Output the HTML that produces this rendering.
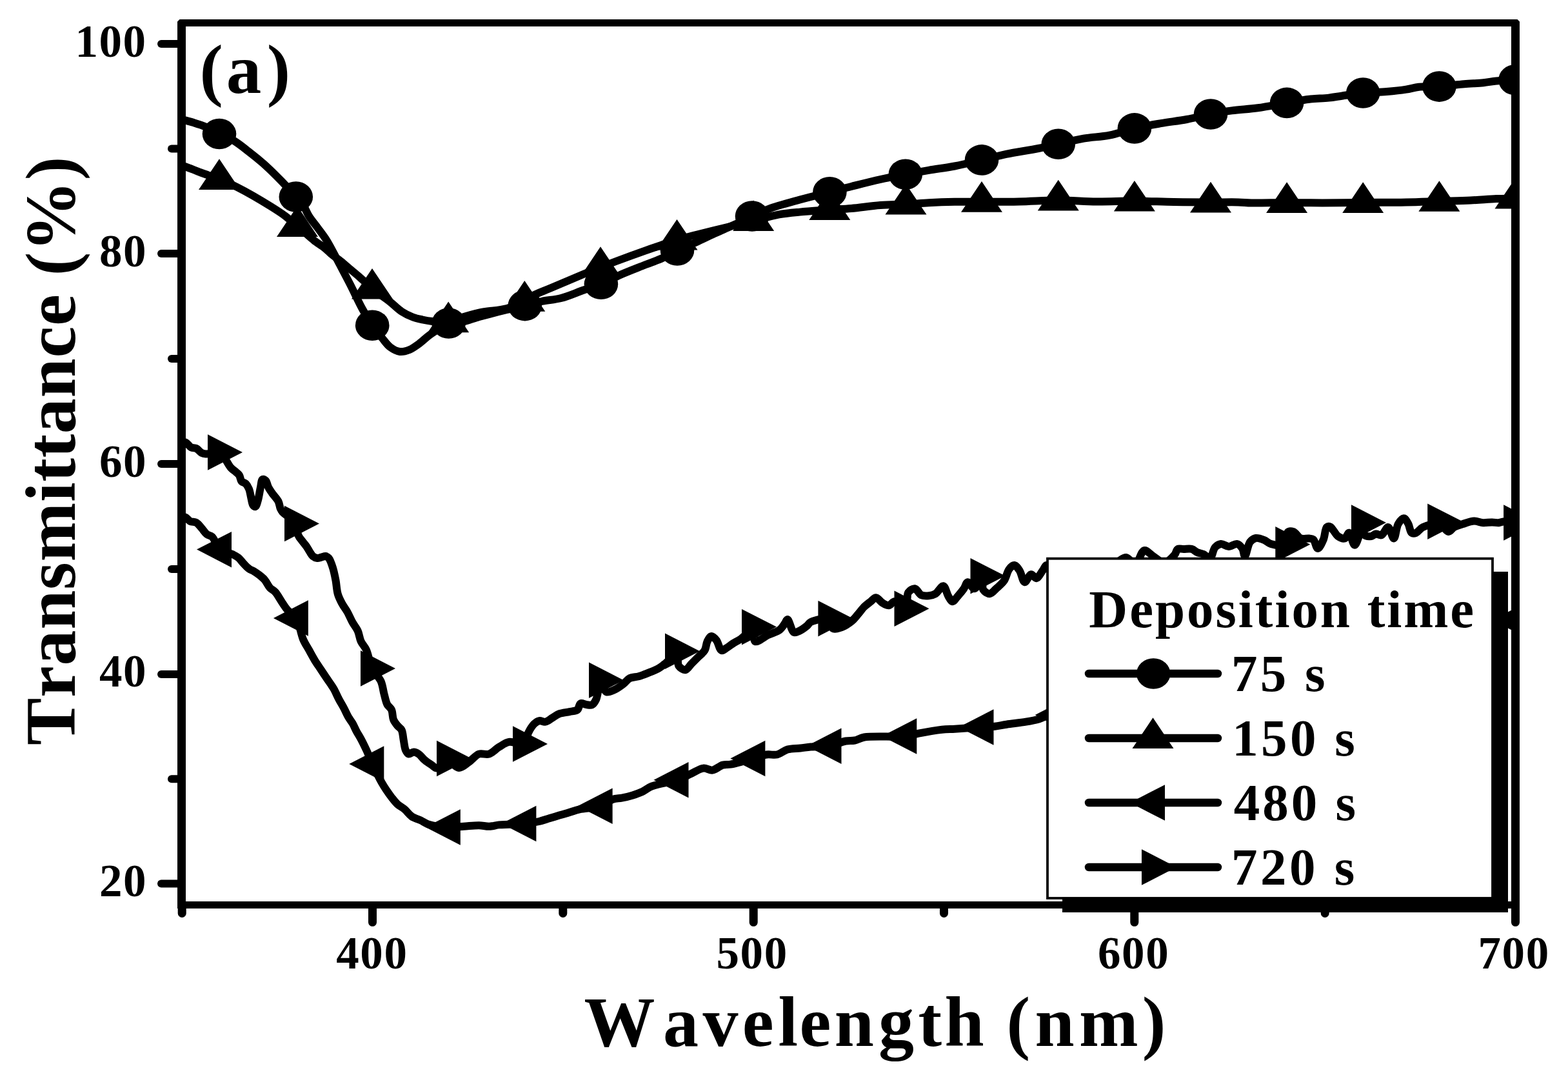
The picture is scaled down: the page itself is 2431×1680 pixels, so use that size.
<!DOCTYPE html>
<html><head><meta charset="utf-8"><title>Transmittance vs Wavelength</title>
<style>html,body{margin:0;padding:0;background:#fff;overflow:hidden}svg{display:block}</style>
</head><body>
<svg width="2431" height="1680" viewBox="0 0 2431 1680">
<rect width="2431" height="1680" fill="#fff"/>
<defs><clipPath id="pc"><rect x="282" y="36" width="2067" height="1366"/></clipPath></defs>
<g clip-path="url(#pc)" fill="#000" stroke-linejoin="round" stroke-linecap="round">
<path d="M282.0,185.0 C288.0,186.7 293.9,188.1 300.0,190.0 C306.5,192.0 313.4,194.1 320.0,197.0 C326.8,199.9 333.1,204.1 340.0,207.5 C347.2,211.1 355.2,213.7 362.5,218.0 C370.3,222.6 377.6,228.7 385.3,234.7 C393.5,241.0 401.8,247.7 410.0,255.0 C418.7,262.8 427.7,271.8 436.0,280.3 C444.0,288.5 452.8,298.0 459.0,305.0 C463.4,310.0 466.7,313.2 470.0,318.0 C473.5,323.1 475.5,329.4 479.0,335.0 C482.8,341.1 488.0,347.0 492.4,353.0 C496.8,359.0 501.4,364.7 505.4,371.0 C509.6,377.5 513.4,384.9 517.0,391.5 C520.4,397.7 522.9,402.7 526.5,409.5 C531.1,418.3 536.9,429.1 542.5,440.0 C548.9,452.4 556.1,468.5 562.5,480.0 C567.6,489.1 572.0,496.5 577.2,504.0 C582.1,511.1 587.5,518.0 592.5,524.0 C596.8,529.2 600.2,534.5 605.0,538.0 C609.5,541.3 614.9,544.4 620.0,545.0 C624.9,545.6 630.2,543.9 635.0,542.0 C640.2,539.9 645.1,536.1 650.0,532.5 C655.1,528.8 659.9,523.8 665.0,520.0 C669.9,516.3 674.9,513.2 680.0,510.0 C685.1,506.8 689.8,502.9 695.6,501.0 C701.8,499.0 708.8,500.4 716.0,499.0 C724.4,497.4 732.9,493.8 743.0,491.0 C755.6,487.5 773.2,483.1 786.0,480.0 C796.3,477.5 804.7,475.8 813.8,473.6 C822.7,471.5 830.9,468.9 840.0,467.0 C849.6,465.0 859.7,464.7 870.0,462.0 C881.3,459.1 894.1,453.3 905.0,449.5 C914.5,446.2 922.9,444.0 931.9,440.3 C941.3,436.4 949.7,431.3 960.0,426.7 C972.1,421.3 988.0,415.3 1000.0,410.5 C1009.9,406.6 1018.5,403.9 1027.0,400.0 C1035.1,396.3 1041.8,391.9 1050.0,388.0 C1059.0,383.7 1069.5,379.8 1079.0,375.5 C1088.4,371.3 1097.7,366.6 1107.0,362.4 C1116.1,358.2 1124.5,354.6 1134.0,350.3 C1144.7,345.5 1157.7,339.7 1168.0,335.0 C1176.7,331.0 1182.5,327.4 1192.0,323.8 C1205.1,318.8 1224.1,313.9 1240.0,309.5 C1255.5,305.2 1272.1,301.4 1286.3,297.8 C1298.4,294.7 1307.9,292.0 1320.0,289.0 C1333.9,285.5 1350.5,281.2 1365.0,278.0 C1378.6,275.0 1391.7,272.6 1404.5,270.2 C1416.6,267.9 1427.8,265.9 1440.0,263.8 C1452.9,261.6 1466.5,260.1 1480.0,257.5 C1494.0,254.8 1508.9,251.1 1522.6,247.9 C1535.5,244.9 1546.6,241.7 1560.0,238.9 C1575.4,235.7 1595.4,232.9 1610.0,230.0 C1621.5,227.7 1629.9,225.7 1640.8,223.3 C1653.1,220.6 1666.8,217.0 1680.0,214.7 C1693.2,212.4 1706.9,212.2 1720.0,209.6 C1733.2,207.0 1745.7,201.9 1758.9,198.9 C1772.3,195.8 1786.4,193.5 1800.0,191.2 C1813.4,188.9 1827.0,187.4 1840.0,185.0 C1852.6,182.7 1865.0,179.3 1877.0,177.0 C1888.3,174.8 1898.4,173.0 1910.0,171.4 C1922.7,169.7 1936.3,169.2 1950.0,167.3 C1964.6,165.3 1981.0,161.8 1995.1,159.4 C2007.5,157.3 2018.8,155.0 2030.0,153.7 C2040.3,152.5 2051.0,152.6 2060.0,151.6 C2067.4,150.8 2072.5,149.8 2080.0,148.7 C2089.7,147.3 2101.8,145.1 2113.2,144.0 C2125.1,142.8 2138.4,143.0 2150.0,142.0 C2160.5,141.1 2171.0,140.0 2180.0,138.6 C2187.4,137.5 2192.5,135.6 2200.0,134.8 C2209.3,133.8 2220.4,134.8 2231.4,134.1 C2243.6,133.4 2257.9,131.3 2270.0,130.3 C2280.6,129.4 2291.0,129.2 2300.0,128.3 C2307.4,127.5 2312.7,126.2 2320.0,125.5 C2328.9,124.6 2342.2,124.3 2349.5,123.8 C2353.9,123.5 2356.5,123.3 2360.0,123.0" fill="none" stroke="#000" stroke-width="12"/>
<ellipse cx="340.0" cy="207.5" rx="26.3" ry="23.8"/>
<ellipse cx="458.8" cy="305.0" rx="26.3" ry="23.8"/>
<ellipse cx="577.2" cy="504.2" rx="26.3" ry="23.8"/>
<ellipse cx="695.6" cy="501.0" rx="26.3" ry="23.8"/>
<ellipse cx="813.8" cy="473.6" rx="26.3" ry="23.8"/>
<ellipse cx="931.9" cy="440.3" rx="26.3" ry="23.8"/>
<ellipse cx="1050.0" cy="388.0" rx="26.3" ry="23.8"/>
<ellipse cx="1166.0" cy="335.0" rx="26.3" ry="23.8"/>
<ellipse cx="1286.4" cy="297.8" rx="26.3" ry="23.8"/>
<ellipse cx="1403.8" cy="270.2" rx="26.3" ry="23.8"/>
<ellipse cx="1522.0" cy="247.9" rx="26.3" ry="23.8"/>
<ellipse cx="1640.8" cy="223.3" rx="26.3" ry="23.8"/>
<ellipse cx="1758.9" cy="198.9" rx="26.3" ry="23.8"/>
<ellipse cx="1877.0" cy="177.0" rx="26.3" ry="23.8"/>
<ellipse cx="1995.1" cy="159.4" rx="26.3" ry="23.8"/>
<ellipse cx="2113.2" cy="144.0" rx="26.3" ry="23.8"/>
<ellipse cx="2231.4" cy="134.1" rx="26.3" ry="23.8"/>
<ellipse cx="2349.5" cy="123.8" rx="26.3" ry="23.8"/>
<path d="M282.0,256.5 C284.0,257.2 285.7,257.7 288.0,258.5 C291.3,259.7 296.2,261.5 300.0,263.0 C303.5,264.4 306.7,265.7 310.0,267.0 C313.3,268.2 316.1,269.1 320.0,270.5 C325.5,272.5 332.8,275.1 340.0,278.0 C348.5,281.4 357.0,284.7 367.5,290.0 C382.4,297.5 406.3,311.5 420.0,320.0 C429.2,325.7 435.5,329.7 442.5,335.0 C449.1,340.1 455.7,346.6 461.0,351.0 C464.8,354.2 467.3,355.9 471.0,359.0 C475.7,362.9 481.6,368.5 487.0,372.7 C492.2,376.8 498.3,380.2 503.0,384.0 C507.1,387.3 510.2,390.8 514.0,394.0 C517.8,397.2 521.8,399.7 526.0,403.0 C530.9,406.9 536.3,411.7 541.5,416.0 C546.7,420.3 552.6,425.2 557.0,429.0 C560.4,432.0 562.8,434.1 566.0,437.0 C569.6,440.3 572.7,443.7 577.5,447.7 C584.6,453.6 596.9,461.6 605.0,468.0 C611.7,473.3 616.8,479.0 623.0,483.0 C628.5,486.6 634.4,489.4 640.0,491.5 C645.1,493.4 650.0,494.4 655.0,495.5 C660.0,496.6 664.3,497.4 670.0,498.0 C677.4,498.8 687.7,500.7 695.6,499.5 C702.9,498.4 708.7,494.4 716.0,492.0 C724.3,489.3 732.9,486.7 743.0,484.5 C755.6,481.8 773.4,481.4 786.0,478.0 C796.5,475.1 806.5,470.7 813.8,466.8 C819.1,464.0 821.5,460.9 826.7,458.0 C833.8,454.1 842.7,451.1 853.0,446.7 C867.4,440.6 890.5,430.8 905.0,424.8 C915.4,420.5 923.3,417.4 931.9,414.0 C939.9,410.8 946.0,408.4 955.0,405.0 C967.5,400.3 987.2,393.1 1000.0,388.6 C1009.5,385.2 1016.7,382.8 1025.0,380.0 C1033.3,377.2 1041.3,374.3 1050.0,371.7 C1059.3,368.9 1069.4,366.5 1079.0,364.0 C1088.4,361.6 1097.7,359.3 1107.0,357.0 C1116.1,354.8 1124.5,352.8 1134.0,350.5 C1144.7,347.9 1156.4,345.1 1168.2,342.2 C1181.0,339.1 1195.4,334.7 1208.0,332.4 C1219.2,330.4 1228.3,329.7 1240.0,328.6 C1254.0,327.2 1272.1,326.0 1286.3,325.0 C1298.4,324.2 1308.0,323.9 1320.0,322.9 C1333.9,321.7 1350.5,319.0 1365.0,318.0 C1378.6,317.0 1391.7,317.2 1404.5,316.6 C1416.7,316.0 1427.8,314.9 1440.0,314.3 C1452.9,313.6 1466.5,313.1 1480.0,312.8 C1494.0,312.5 1507.3,312.8 1522.6,312.8 C1540.3,312.8 1560.6,312.9 1580.0,312.5 C1600.0,312.1 1620.7,310.5 1640.8,310.5 C1660.7,310.5 1680.3,312.3 1700.0,312.5 C1719.7,312.7 1739.1,311.5 1758.9,311.6 C1779.1,311.7 1800.0,312.7 1820.0,313.0 C1839.3,313.3 1859.3,313.4 1877.0,313.5 C1892.3,313.5 1908.4,313.1 1920.0,313.4 C1927.9,313.6 1931.7,314.3 1940.0,314.5 C1953.8,314.8 1976.8,314.0 1995.1,314.0 C2013.4,314.0 2031.1,314.5 2050.0,314.5 C2070.3,314.5 2091.8,314.2 2113.2,314.0 C2135.2,313.8 2159.2,313.8 2180.0,313.4 C2198.3,313.1 2214.5,312.4 2231.4,311.9 C2247.8,311.4 2264.6,311.2 2280.0,310.5 C2294.0,309.9 2307.7,308.5 2320.0,308.0 C2330.6,307.6 2342.2,307.7 2349.5,307.5 C2353.9,307.4 2356.5,307.2 2360.0,307.0" fill="none" stroke="#000" stroke-width="12"/>
<path d="M340.0,246.3 L372.0,293.9 L308.0,293.9 Z"/>
<path d="M461.0,319.3 L493.0,366.9 L429.0,366.9 Z"/>
<path d="M577.0,416.0 L609.0,463.6 L545.0,463.6 Z"/>
<path d="M695.2,467.6 L727.2,515.2 L663.2,515.2 Z"/>
<path d="M813.3,435.1 L845.3,482.7 L781.3,482.7 Z"/>
<path d="M931.0,382.3 L963.0,429.9 L899.0,429.9 Z"/>
<path d="M1049.5,340.0 L1081.5,387.6 L1017.5,387.6 Z"/>
<path d="M1168.2,310.5 L1200.2,358.1 L1136.2,358.1 Z"/>
<path d="M1286.3,293.3 L1318.3,340.9 L1254.3,340.9 Z"/>
<path d="M1404.5,284.9 L1436.5,332.5 L1372.5,332.5 Z"/>
<path d="M1522.0,281.1 L1554.0,328.7 L1490.0,328.7 Z"/>
<path d="M1640.8,278.8 L1672.8,326.4 L1608.8,326.4 Z"/>
<path d="M1758.9,279.9 L1790.9,327.5 L1726.9,327.5 Z"/>
<path d="M1877.0,281.8 L1909.0,329.4 L1845.0,329.4 Z"/>
<path d="M1995.1,282.3 L2027.1,329.9 L1963.1,329.9 Z"/>
<path d="M2113.2,282.3 L2145.2,329.9 L2081.2,329.9 Z"/>
<path d="M2231.4,280.2 L2263.4,327.8 L2199.4,327.8 Z"/>
<path d="M2349.5,275.8 L2381.5,323.4 L2317.5,323.4 Z"/>
<path d="M282.0,800.0 C284.0,800.7 286.1,800.9 288.0,802.0 C290.3,803.3 292.1,806.5 294.7,807.8 C297.5,809.2 301.5,808.3 304.4,809.9 C307.6,811.7 309.9,815.5 312.6,818.5 C315.4,821.6 317.7,825.7 320.7,828.0 C323.2,829.9 326.2,829.5 328.9,831.9 C333.1,835.7 335.5,847.0 341.0,851.6 C346.4,856.1 356.2,857.0 361.4,859.5 C364.8,861.2 367.0,862.3 369.6,864.4 C372.5,866.8 374.9,870.5 377.7,873.4 C380.4,876.2 383.0,879.2 385.9,881.3 C388.5,883.2 391.3,884.0 394.0,885.6 C396.8,887.3 399.5,889.2 402.2,891.3 C405.0,893.5 407.8,895.7 410.3,898.6 C413.3,902.0 415.5,907.7 418.5,911.0 C421.0,913.7 423.9,914.5 426.6,917.4 C430.3,921.4 434.1,928.9 437.5,933.8 C440.4,938.0 442.3,941.5 445.6,945.2 C449.4,949.5 455.6,952.1 459.4,958.0 C464.5,966.0 466.1,981.7 470.0,990.8 C473.0,997.8 476.7,1003.0 479.8,1008.7 C482.6,1013.8 485.1,1018.5 488.0,1023.3 C491.0,1028.2 494.5,1033.1 497.7,1038.0 C501.0,1042.9 504.2,1047.8 507.5,1052.7 C510.8,1057.6 514.3,1062.2 517.3,1067.3 C520.3,1072.5 522.6,1078.3 525.4,1083.6 C528.1,1088.7 531.1,1093.5 533.6,1098.3 C535.9,1102.7 537.8,1107.3 540.1,1111.3 C542.2,1114.9 544.5,1117.5 546.6,1121.1 C548.9,1125.1 550.9,1130.1 553.1,1134.1 C555.0,1137.5 556.7,1139.9 558.7,1143.6 C561.5,1148.7 565.0,1155.8 568.0,1162.3 C571.2,1169.2 573.9,1176.3 577.5,1184.0 C581.6,1192.8 587.3,1204.8 591.4,1212.2 C594.2,1217.3 596.5,1220.7 599.2,1224.7 C601.7,1228.5 604.2,1232.0 607.0,1235.6 C609.9,1239.3 612.9,1243.3 616.4,1246.5 C619.7,1249.5 623.8,1251.3 627.3,1254.3 C631.1,1257.5 634.0,1262.3 638.2,1265.2 C642.3,1268.0 647.7,1269.3 652.2,1271.4 C656.5,1273.4 659.4,1276.1 664.7,1277.7 C672.6,1280.2 686.0,1281.6 695.6,1282.0 C704.0,1282.4 711.4,1281.3 719.2,1280.8 C727.0,1280.3 735.6,1279.1 742.6,1279.2 C748.3,1279.3 753.0,1280.9 758.2,1280.8 C763.4,1280.7 768.6,1278.9 773.8,1278.4 C779.0,1277.9 783.5,1278.0 789.3,1277.7 C796.5,1277.4 805.8,1277.3 813.8,1276.5 C821.4,1275.7 829.4,1274.5 836.1,1273.0 C841.8,1271.7 846.5,1269.9 851.7,1268.3 C856.9,1266.7 862.1,1265.2 867.3,1263.6 C872.5,1262.1 877.7,1260.6 882.9,1259.0 C888.1,1257.5 892.2,1255.7 898.4,1254.3 C907.4,1252.3 922.7,1252.4 931.9,1249.2 C939.2,1246.7 944.3,1240.7 950.2,1238.7 C955.0,1237.0 959.4,1237.6 964.2,1236.7 C969.4,1235.7 975.0,1234.3 980.3,1232.7 C985.7,1231.0 991.2,1229.1 996.3,1226.7 C1001.2,1224.4 1004.2,1221.1 1010.3,1218.7 C1020.0,1214.8 1039.1,1212.5 1050.0,1208.7 C1058.1,1205.9 1063.7,1202.6 1070.5,1199.6 C1077.2,1196.6 1084.3,1191.3 1090.5,1190.6 C1095.5,1190.1 1099.9,1194.2 1104.6,1193.6 C1109.9,1192.9 1115.5,1187.0 1120.6,1185.6 C1124.8,1184.4 1127.7,1185.4 1132.7,1184.6 C1141.5,1183.1 1158.0,1178.3 1168.2,1175.5 C1176.0,1173.4 1182.3,1170.4 1188.8,1169.5 C1194.4,1168.7 1199.6,1170.7 1204.8,1169.5 C1210.3,1168.2 1215.1,1163.2 1220.9,1161.5 C1227.1,1159.7 1234.6,1160.2 1240.9,1159.5 C1246.6,1158.9 1250.8,1158.0 1257.0,1157.5 C1265.3,1156.8 1277.0,1157.8 1286.3,1156.2 C1295.0,1154.7 1303.9,1149.8 1311.1,1148.5 C1316.4,1147.5 1320.5,1148.4 1325.2,1147.5 C1330.1,1146.5 1333.2,1143.7 1340.0,1142.5 C1353.8,1140.1 1389.2,1142.8 1404.5,1141.0 C1413.1,1140.0 1416.7,1138.2 1424.3,1136.7 C1434.5,1134.7 1450.1,1131.8 1460.4,1130.7 C1468.0,1129.9 1472.5,1130.1 1480.4,1129.7 C1491.9,1129.0 1511.1,1127.7 1522.6,1127.0 C1530.5,1126.5 1536.0,1126.4 1542.5,1125.7 C1548.7,1125.0 1553.8,1123.7 1560.6,1122.7 C1569.3,1121.4 1581.6,1120.2 1590.6,1118.7 C1598.0,1117.5 1605.2,1116.2 1610.7,1114.6 C1614.7,1113.4 1616.7,1111.6 1620.7,1110.6 C1626.2,1109.2 1631.3,1109.3 1640.8,1108.0 C1663.8,1104.8 1719.5,1096.0 1758.9,1090.0 C1798.3,1084.0 1837.7,1078.7 1877.0,1072.0 C1916.4,1065.3 1955.8,1058.3 1995.1,1050.0 C2034.6,1041.7 2073.9,1031.7 2113.2,1022.0 C2152.6,1012.3 2192.0,1002.2 2231.4,992.0 C2270.8,981.8 2331.4,966.0 2349.5,961.0 C2354.9,959.5 2356.5,959.0 2360.0,958.0" fill="none" stroke="#000" stroke-width="12"/>
<path d="M305.0,851.6 L359.0,823.9 L359.0,879.4 Z"/>
<path d="M423.9,958.0 L477.9,930.2 L477.9,985.8 Z"/>
<path d="M541.3,1184.0 L595.3,1156.2 L595.3,1211.8 Z"/>
<path d="M659.8,1282.0 L713.8,1254.2 L713.8,1309.8 Z"/>
<path d="M777.4,1276.5 L831.4,1248.8 L831.4,1304.2 Z"/>
<path d="M895.6,1249.2 L949.6,1221.5 L949.6,1277.0 Z"/>
<path d="M1013.5,1208.7 L1067.5,1181.0 L1067.5,1236.5 Z"/>
<path d="M1132.4,1175.5 L1186.4,1147.8 L1186.4,1203.2 Z"/>
<path d="M1250.5,1156.2 L1304.5,1128.5 L1304.5,1184.0 Z"/>
<path d="M1367.3,1141.0 L1421.3,1113.2 L1421.3,1168.8 Z"/>
<path d="M1486.5,1127.0 L1540.5,1099.2 L1540.5,1154.8 Z"/>
<path d="M1604.8,1108.0 L1658.8,1080.2 L1658.8,1135.8 Z"/>
<path d="M1722.9,1090.0 L1776.9,1062.2 L1776.9,1117.8 Z"/>
<path d="M1841.0,1072.0 L1895.0,1044.2 L1895.0,1099.8 Z"/>
<path d="M1959.1,1050.0 L2013.1,1022.2 L2013.1,1077.8 Z"/>
<path d="M2077.2,1022.0 L2131.2,994.2 L2131.2,1049.8 Z"/>
<path d="M2195.4,992.0 L2249.4,964.2 L2249.4,1019.8 Z"/>
<path d="M2313.5,961.0 L2367.5,933.2 L2367.5,988.8 Z"/>
<path d="M282.0,685.0 C284.0,685.2 286.0,684.8 288.0,685.7 C290.8,687.0 293.3,691.9 296.3,693.4 C298.8,694.7 301.8,693.8 304.4,695.0 C307.3,696.4 309.9,700.5 312.6,701.9 C314.7,703.0 316.2,703.4 319.0,703.6 C324.0,703.9 333.9,698.4 340.0,701.0 C347.3,704.1 352.9,719.7 358.0,725.0 C361.0,728.2 363.7,729.6 366.0,731.7 C367.9,733.4 369.6,734.5 371.0,736.6 C372.6,739.1 372.6,743.8 374.5,746.0 C376.1,747.9 379.2,747.8 381.0,749.6 C383.1,751.6 384.7,754.6 386.0,757.7 C387.5,761.3 388.0,765.8 389.0,770.0 C390.1,774.3 390.6,780.7 392.4,783.0 C393.4,784.3 394.9,785.4 396.0,785.0 C397.7,784.4 398.8,779.0 400.0,775.0 C401.6,769.5 402.7,760.8 404.0,755.0 C405.0,750.5 405.1,744.0 407.0,743.0 C408.3,742.4 410.6,743.6 412.0,745.0 C413.9,746.9 414.4,751.8 416.0,755.0 C417.6,758.2 419.5,760.8 421.7,764.0 C424.5,768.0 429.3,772.6 431.5,777.0 C433.3,780.7 433.4,785.0 434.7,788.0 C435.7,790.3 436.1,791.4 438.0,793.6 C441.8,798.1 455.1,804.8 459.0,811.5 C462.2,817.0 460.4,824.5 462.4,829.4 C464.0,833.3 466.8,835.9 469.0,839.0 C471.1,841.9 473.6,844.5 475.5,847.3 C477.3,850.0 478.7,853.0 480.4,855.5 C481.9,857.8 483.1,860.4 485.0,862.0 C486.9,863.5 489.5,864.8 491.8,865.0 C494.0,865.2 496.1,864.1 498.3,863.6 C500.5,863.1 502.8,861.7 504.8,862.0 C506.6,862.3 508.2,863.3 509.7,865.0 C512.2,867.9 514.3,874.6 516.0,880.0 C517.9,886.0 519.2,892.8 520.5,899.5 C521.8,906.4 521.9,914.4 523.8,920.7 C525.4,926.2 527.8,930.7 530.3,935.4 C532.7,940.0 535.9,943.8 538.5,948.4 C541.3,953.5 543.8,959.6 546.6,964.7 C549.2,969.3 552.6,973.0 554.7,977.7 C557.0,982.7 557.3,989.0 559.6,994.0 C561.8,998.7 565.3,1001.6 567.8,1007.0 C571.3,1014.6 572.9,1027.5 577.0,1036.0 C580.7,1043.6 587.5,1049.0 590.6,1055.9 C593.4,1062.2 593.8,1069.3 595.5,1075.5 C597.1,1081.2 598.1,1087.5 600.4,1091.8 C602.2,1095.2 605.4,1096.6 607.0,1100.0 C609.0,1104.2 608.3,1111.2 610.1,1115.6 C611.6,1119.3 614.2,1122.2 616.4,1124.9 C618.4,1127.3 621.1,1128.3 622.6,1131.2 C624.6,1135.0 624.7,1141.6 625.7,1146.8 C626.7,1152.0 627.1,1158.4 628.8,1162.3 C630.0,1165.0 631.5,1168.0 633.5,1168.6 C635.6,1169.2 638.7,1165.5 641.3,1165.5 C643.9,1165.5 646.6,1166.9 649.1,1168.6 C652.3,1170.7 655.0,1175.1 658.4,1177.9 C661.8,1180.8 666.0,1183.5 669.4,1185.7 C672.2,1187.5 674.0,1190.4 677.1,1190.4 C681.8,1190.5 689.2,1179.9 695.0,1180.0 C700.6,1180.1 706.0,1189.9 711.4,1190.0 C716.6,1190.1 721.9,1184.5 727.0,1181.0 C732.3,1177.4 737.0,1170.5 742.6,1168.6 C747.5,1166.9 753.2,1170.2 758.2,1168.6 C763.7,1166.9 768.5,1160.9 773.8,1157.7 C778.9,1154.7 783.4,1150.9 789.3,1149.9 C796.2,1148.7 808.1,1156.0 813.0,1153.0 C817.3,1150.4 816.4,1141.1 819.0,1135.8 C821.5,1130.7 825.0,1125.0 828.3,1121.8 C830.8,1119.4 833.3,1117.6 836.1,1117.1 C839.0,1116.6 842.4,1119.3 845.5,1118.7 C849.1,1118.1 852.8,1114.6 856.4,1112.5 C860.0,1110.4 863.2,1107.7 867.3,1106.2 C871.9,1104.5 878.0,1104.2 882.9,1103.1 C887.3,1102.1 892.4,1102.3 895.3,1100.0 C897.9,1097.9 897.5,1091.5 900.0,1090.3 C902.4,1089.1 906.8,1092.0 910.0,1092.3 C912.8,1092.6 915.7,1093.4 918.0,1092.3 C920.5,1091.0 922.3,1087.9 924.1,1084.3 C927.0,1078.6 927.8,1060.6 931.0,1060.0 C933.5,1059.5 936.4,1070.9 940.2,1072.3 C943.6,1073.5 948.2,1071.0 952.2,1069.3 C956.9,1067.3 962.0,1063.5 966.2,1060.3 C970.0,1057.4 972.4,1053.2 976.3,1051.2 C980.4,1049.1 985.7,1049.5 990.3,1048.2 C995.0,1046.9 999.5,1045.1 1004.3,1043.2 C1009.5,1041.1 1015.8,1038.8 1020.4,1036.2 C1024.3,1034.0 1026.6,1032.0 1030.4,1029.2 C1035.7,1025.3 1045.4,1013.6 1049.0,1015.0 C1052.1,1016.2 1049.7,1028.3 1052.5,1032.2 C1054.8,1035.4 1059.3,1038.6 1062.5,1038.2 C1066.0,1037.8 1069.2,1031.5 1072.5,1028.2 C1075.8,1024.9 1079.2,1021.5 1082.5,1018.2 C1085.8,1014.8 1090.2,1012.1 1092.5,1008.1 C1094.9,1004.1 1094.7,998.0 1096.6,994.1 C1098.2,990.9 1100.3,986.4 1102.6,986.1 C1104.9,985.8 1108.2,989.2 1110.6,992.1 C1113.8,995.9 1115.3,1007.0 1118.6,1008.1 C1120.9,1008.9 1123.8,1005.7 1126.6,1004.1 C1129.8,1002.2 1133.1,999.4 1136.7,997.1 C1140.5,994.7 1144.3,993.1 1148.7,990.1 C1154.5,986.2 1164.4,973.6 1168.0,975.0 C1171.2,976.3 1167.3,992.3 1170.8,994.1 C1174.5,996.0 1184.3,987.2 1190.8,984.1 C1197.0,981.2 1204.4,979.5 1208.9,976.0 C1212.5,973.2 1214.7,969.0 1216.9,966.0 C1218.5,963.8 1219.4,959.9 1220.9,960.0 C1223.6,960.2 1226.9,978.3 1230.9,980.1 C1233.3,981.2 1236.2,979.3 1239.0,978.0 C1242.7,976.3 1247.8,972.6 1251.0,970.0 C1253.5,968.0 1253.9,965.6 1257.0,964.0 C1262.9,961.1 1281.0,956.7 1286.4,960.0 C1290.2,962.3 1287.9,972.0 1291.1,974.0 C1294.2,975.9 1300.4,973.7 1305.1,972.0 C1310.5,970.0 1316.8,965.6 1321.2,962.0 C1324.8,959.0 1327.0,955.7 1330.0,952.3 C1333.3,948.5 1336.5,943.8 1340.0,940.3 C1343.2,937.2 1346.8,934.7 1350.0,932.2 C1352.8,930.0 1355.3,926.1 1358.1,926.2 C1361.3,926.3 1364.6,932.3 1368.1,934.3 C1371.3,936.2 1375.1,938.7 1378.2,938.3 C1381.1,937.9 1382.8,933.1 1386.2,932.2 C1390.9,931.0 1400.9,937.5 1404.5,935.0 C1408.0,932.6 1405.4,922.1 1408.2,918.2 C1410.5,915.0 1415.1,911.8 1418.3,912.2 C1421.8,912.6 1424.4,920.4 1428.3,922.2 C1431.9,923.8 1436.5,923.6 1440.3,923.2 C1443.8,922.8 1447.0,922.1 1450.3,920.2 C1454.5,917.7 1459.1,907.7 1462.4,908.2 C1465.8,908.8 1467.7,919.9 1470.4,924.2 C1472.4,927.4 1474.0,932.0 1476.4,932.2 C1479.2,932.4 1483.3,925.6 1486.4,922.2 C1489.3,918.9 1492.0,915.6 1494.4,912.2 C1496.7,908.9 1497.9,902.5 1500.4,902.2 C1503.2,901.9 1507.0,912.2 1510.5,912.2 C1514.3,912.2 1520.2,899.2 1522.5,900.0 C1524.6,900.7 1522.2,910.8 1524.5,914.2 C1526.5,917.3 1531.2,920.4 1534.5,920.2 C1537.9,920.0 1541.1,915.2 1544.5,912.2 C1548.4,908.7 1553.3,905.0 1556.6,900.2 C1560.1,895.1 1561.3,886.3 1564.6,882.1 C1566.9,879.1 1570.0,875.9 1572.6,876.1 C1575.4,876.3 1578.2,880.6 1580.6,884.1 C1583.8,888.7 1585.3,901.7 1588.6,902.2 C1591.5,902.6 1595.3,890.6 1598.7,890.2 C1601.4,889.9 1604.0,896.5 1606.7,896.2 C1610.0,895.8 1613.8,887.7 1616.7,884.1 C1619.0,881.2 1620.0,876.3 1622.7,876.1 C1627.0,875.8 1632.0,892.5 1640.8,895.0 C1654.2,898.8 1683.6,884.3 1700.0,880.0 C1711.7,877.0 1721.7,875.1 1730.0,872.0 C1736.3,869.6 1741.0,863.5 1746.0,864.0 C1751.0,864.5 1755.7,875.7 1760.0,875.0 C1765.2,874.1 1768.7,854.2 1774.0,853.0 C1778.2,852.1 1783.1,859.0 1788.0,862.0 C1793.4,865.3 1799.5,872.3 1805.0,872.0 C1810.5,871.7 1817.4,864.1 1821.0,860.0 C1823.6,857.1 1823.5,852.4 1826.0,851.0 C1828.3,849.6 1831.7,851.0 1835.0,851.0 C1838.9,851.0 1844.3,849.9 1848.0,851.0 C1851.1,851.9 1853.1,854.7 1856.0,856.0 C1859.1,857.4 1862.8,857.6 1866.0,859.0 C1869.4,860.5 1873.2,865.8 1876.0,865.0 C1879.5,863.9 1880.5,851.7 1884.0,848.0 C1886.6,845.3 1889.7,843.3 1893.0,843.0 C1896.6,842.7 1900.9,847.0 1905.0,847.0 C1909.2,847.0 1914.4,842.2 1918.0,843.0 C1921.2,843.7 1924.0,847.0 1926.0,850.0 C1928.2,853.2 1928.4,862.0 1930.0,862.0 C1932.2,862.0 1934.3,844.7 1938.0,840.0 C1940.5,836.8 1943.6,834.6 1947.0,834.0 C1950.8,833.3 1956.0,835.4 1960.0,837.0 C1963.8,838.5 1966.0,841.7 1970.4,843.0 C1976.7,844.8 1991.0,847.5 1995.1,843.8 C1998.7,840.6 1993.7,827.8 1996.4,825.0 C1998.2,823.1 2002.1,823.1 2005.0,824.0 C2009.0,825.2 2012.7,832.9 2017.1,834.5 C2020.9,835.9 2025.8,834.1 2029.3,834.5 C2031.9,834.8 2034.2,834.6 2036.2,836.2 C2039.1,838.6 2040.5,849.9 2043.1,850.0 C2045.7,850.1 2049.5,841.4 2051.8,836.2 C2054.3,830.5 2054.2,819.5 2057.0,817.0 C2058.4,815.7 2060.6,815.7 2062.2,816.3 C2064.2,817.0 2065.6,820.1 2067.4,822.3 C2069.6,824.9 2071.4,829.0 2074.3,831.0 C2077.2,833.0 2081.8,835.4 2084.7,834.5 C2087.6,833.6 2089.4,825.5 2091.6,825.8 C2094.6,826.2 2097.2,844.8 2100.3,844.8 C2104.2,844.8 2110.7,814.7 2113.2,815.0 C2114.9,815.2 2113.2,826.7 2115.8,829.3 C2118.0,831.5 2123.1,831.5 2126.2,831.0 C2128.8,830.6 2130.7,827.8 2133.2,827.5 C2135.9,827.2 2139.1,830.2 2141.8,829.3 C2145.5,828.0 2149.1,816.7 2152.2,817.1 C2155.6,817.5 2158.4,834.7 2160.9,834.5 C2163.7,834.3 2164.5,817.5 2167.8,812.0 C2170.2,808.0 2173.8,803.1 2176.5,803.3 C2179.0,803.4 2181.5,808.6 2183.4,812.0 C2185.6,815.9 2185.9,823.9 2188.6,825.8 C2190.4,827.1 2193.1,826.7 2195.5,825.8 C2198.8,824.6 2201.3,819.3 2205.9,817.1 C2212.3,814.1 2224.5,810.2 2231.4,812.0 C2237.3,813.5 2241.5,823.9 2245.7,824.0 C2248.9,824.0 2251.0,819.0 2254.4,817.1 C2258.3,814.9 2263.3,813.5 2268.2,812.0 C2273.6,810.3 2280.0,807.8 2285.5,807.6 C2290.4,807.4 2294.8,809.9 2299.4,810.2 C2304.0,810.5 2308.9,809.4 2313.2,809.4 C2316.9,809.4 2320.5,810.5 2323.6,810.2 C2326.2,810.0 2327.7,808.7 2330.6,808.5 C2335.3,808.1 2344.1,809.8 2349.5,810.0 C2353.5,810.2 2356.5,810.0 2360.0,810.0" fill="none" stroke="#000" stroke-width="12"/>
<path d="M376.0,701.0 L322.0,673.2 L322.0,728.8 Z"/>
<path d="M495.0,811.5 L441.0,783.8 L441.0,839.2 Z"/>
<path d="M613.0,1036.0 L559.0,1008.2 L559.0,1063.8 Z"/>
<path d="M731.0,1175.6 L677.0,1147.8 L677.0,1203.3 Z"/>
<path d="M849.0,1153.0 L795.0,1125.2 L795.0,1180.8 Z"/>
<path d="M967.0,1054.2 L913.0,1026.5 L913.0,1082.0 Z"/>
<path d="M1085.0,1009.2 L1031.0,981.5 L1031.0,1037.0 Z"/>
<path d="M1204.0,971.6 L1150.0,943.9 L1150.0,999.4 Z"/>
<path d="M1322.4,958.6 L1268.4,930.9 L1268.4,986.4 Z"/>
<path d="M1440.5,943.3 L1386.5,915.5 L1386.5,971.0 Z"/>
<path d="M1558.5,892.6 L1504.5,864.9 L1504.5,920.4 Z"/>
<path d="M1676.8,900.0 L1622.8,872.2 L1622.8,927.8 Z"/>
<path d="M1794.9,900.0 L1740.9,872.2 L1740.9,927.8 Z"/>
<path d="M1913.0,895.0 L1859.0,867.2 L1859.0,922.8 Z"/>
<path d="M2031.3,843.8 L1977.3,816.0 L1977.3,871.5 Z"/>
<path d="M2149.0,810.0 L2095.0,782.2 L2095.0,837.8 Z"/>
<path d="M2267.2,808.1 L2213.2,780.4 L2213.2,835.9 Z"/>
<path d="M2385.1,810.0 L2331.1,782.2 L2331.1,837.8 Z"/>
</g>
<g fill="#000">
<path fill-rule="evenodd" d="M278.5,30 H2352.5 L2356,33.5 V1408 H275 V33.5 L278.5,30 Z M288,41 V1397 H2343 V41 Z"/>
</g>
<g stroke="#000" stroke-linecap="round" fill="none">
<line x1="280" y1="68.0" x2="250" y2="68.0" stroke-width="12"/>
<line x1="280" y1="393.0" x2="250" y2="393.0" stroke-width="12"/>
<line x1="280" y1="719.0" x2="250" y2="719.0" stroke-width="12"/>
<line x1="280" y1="1045.0" x2="250" y2="1045.0" stroke-width="12"/>
<line x1="280" y1="1369.4" x2="250" y2="1369.4" stroke-width="12"/>
<line x1="280" y1="230.5" x2="266" y2="230.5" stroke-width="12"/>
<line x1="280" y1="556.0" x2="266" y2="556.0" stroke-width="12"/>
<line x1="280" y1="882.0" x2="266" y2="882.0" stroke-width="12"/>
<line x1="280" y1="1207.2" x2="266" y2="1207.2" stroke-width="12"/>
<line x1="577.5" y1="1406" x2="577.5" y2="1429.3" stroke-width="13"/>
<line x1="1168.2" y1="1406" x2="1168.2" y2="1429.3" stroke-width="13"/>
<line x1="1758.8" y1="1406" x2="1758.8" y2="1429.3" stroke-width="13"/>
<line x1="2349.5" y1="1406" x2="2349.5" y2="1429.3" stroke-width="13"/>
<line x1="282.2" y1="1406" x2="282.2" y2="1415.5" stroke-width="13"/>
<line x1="872.8" y1="1406" x2="872.8" y2="1415.5" stroke-width="13"/>
<line x1="1463.5" y1="1406" x2="1463.5" y2="1415.5" stroke-width="13"/>
<line x1="2054.2" y1="1406" x2="2054.2" y2="1415.5" stroke-width="13"/>
</g>
<rect x="1647" y="886" width="691" height="528" fill="#000"/>
<rect x="1624" y="865.7" width="690" height="526.3" fill="#fff" stroke="#000" stroke-width="3.8"/>
<g stroke="#000" stroke-width="12.5" stroke-linecap="round">
<line x1="1688" y1="1044.0" x2="1888" y2="1044.0"/>
<line x1="1688" y1="1144.0" x2="1888" y2="1144.0"/>
<line x1="1688" y1="1244.0" x2="1888" y2="1244.0"/>
<line x1="1688" y1="1344.0" x2="1888" y2="1344.0"/>
</g>
<g fill="#000">
<ellipse cx="1788.2" cy="1044.0" rx="26.3" ry="23.8"/>
<path d="M1787.5,1112.3 L1819.5,1159.9 L1755.5,1159.9 Z"/>
<path d="M1752.0,1244.0 L1806.0,1216.2 L1806.0,1271.8 Z"/>
<path d="M1824.0,1344.0 L1770.0,1316.2 L1770.0,1371.8 Z"/>
</g>
<g font-family="Liberation Serif, serif" font-weight="bold" fill="#000" style="font-kerning:none">
<text x="116.6" y="88.0" font-size="71" letter-spacing="1.5">100</text>
<text x="154.1" y="413.0" font-size="71" letter-spacing="1.5">80</text>
<text x="154.1" y="738.5" font-size="71" letter-spacing="1.5">60</text>
<text x="154.1" y="1063.7" font-size="71" letter-spacing="1.5">40</text>
<text x="154.1" y="1389.0" font-size="71" letter-spacing="1.5">20</text>
<text x="521.2" y="1501.0" font-size="71" letter-spacing="1.6">400</text>
<text x="1110.5" y="1501.0" font-size="71" letter-spacing="1.6">500</text>
<text x="1702.0" y="1501.0" font-size="71" letter-spacing="1.6">600</text>
<text x="2291.5" y="1501.0" font-size="71" letter-spacing="1.6">700</text>
<text x="309.4" y="144.2" font-size="109" letter-spacing="7.3" dx="0 -2.3 1.3">(a)</text>
<text x="905.7" y="1620.7" font-size="110" letter-spacing="6.3" dx="-0.2 6.1 0.2 -0.1 0.8 -4.0 -0.9 0.8 0.3 -2.0 -2.5 -2.8 1.0 1.2 -0.4">Wavelength (nm)</text>
<text transform="translate(115.9,1155.1) rotate(-90)" font-size="110" letter-spacing="0.7">Transmittance (%)</text>
<text x="1688.3" y="972.0" font-size="83" letter-spacing="2.95">Deposition time</text>
<text x="1908.9" y="1071.3" font-size="81" letter-spacing="4.3">75 s</text>
<text x="1910.3" y="1171.3" font-size="81" letter-spacing="4.3">150 s</text>
<text x="1912.7" y="1271.2" font-size="81" letter-spacing="4">480 s</text>
<text x="1909.1" y="1371.2" font-size="81" letter-spacing="4.5">720 s</text>
</g>
</svg>
</body></html>
